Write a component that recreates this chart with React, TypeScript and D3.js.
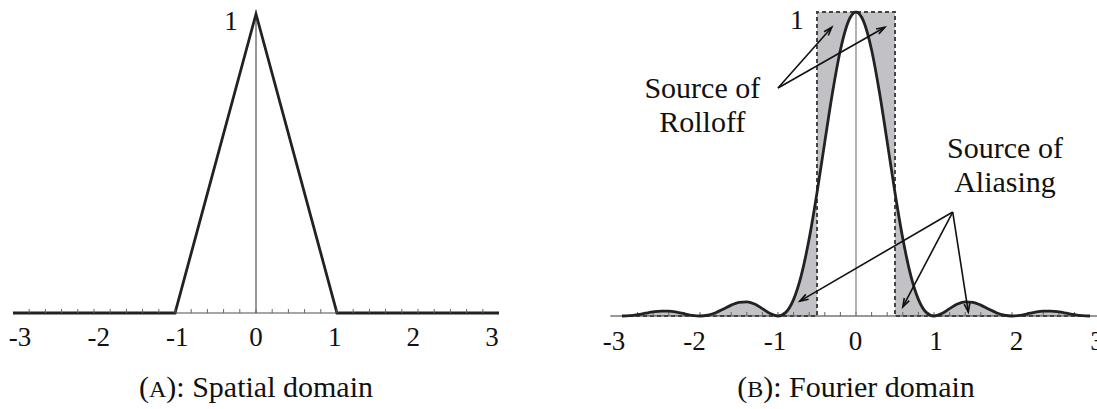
import React from "react";
import * as d3 from "d3";

// ---- data ----
const tickValues = [-3, -2, -1, 0, 1, 2, 3];
const tickLabels = ["-3", "-2", "-1", "0", "1", "2", "3"];
const minorTicks = [-2.8, -2.6, -2.4, -2.2, -2, -1.8, -1.6, -1.4, -1.2, -1, -0.8, -0.6, -0.4, -0.2, 0, 0.2, 0.4, 0.6, 0.8, 1, 1.2, 1.4, 1.6, 1.8, 2, 2.2, 2.4, 2.6, 2.8];

// spatial domain: triangle (tent) filter
const triX = [-3, -1, 0, 1, 3];
const triY = [0, 0, 1, 0, 0];

// Fourier domain: sampled curve (x from -3 to 3 in 0.1 steps)
const fourierY = [
  0, 0.00115, 0.00447, 0.0091, 0.01356, 0.01621, 0.01591, 0.01254, 0.00723, 0.00219,
  0, 0.00268, 0.0108, 0.02295, 0.0358, 0.04503, 0.04676, 0.03924, 0.02431, 0.008,
  0, 0.01195, 0.0547, 0.13534, 0.25457, 0.40528, 0.57279, 0.73684, 0.87514, 0.96753,
  1,
  0.96753, 0.87514, 0.73684, 0.57279, 0.40528, 0.25457, 0.13534, 0.0547, 0.01195, 0,
  0.008, 0.02431, 0.03924, 0.04676, 0.04503, 0.0358, 0.02295, 0.0108, 0.00268, 0,
  0.00219, 0.00723, 0.01254, 0.01591, 0.01621, 0.01356, 0.0091, 0.00447, 0.00115, 0,
];
const fourierX = fourierY.map((_, i) => Math.round((i - 30)) / 10);
const boxX = [-0.5, 0.5];
const boxHeight = 1;

// annotations (data coordinates of the Fourier panel)
const rolloffLines = ["Source of", "Rolloff"];
const rolloffTextPos = { x: -1.97, y: 0.717 };
const rolloffStart = { x: -1.0, y: 0.75 };
const rolloffEnds = [
  { x: -0.31, y: 0.95 },
  { x: 0.37, y: 0.95 },
];
const aliasLines = ["Source of", "Aliasing"];
const aliasTextPos = { x: 1.91, y: 0.52 };
const aliasStart = { x: 1.24, y: 0.342 };
const aliasEnds = [
  { x: -0.72, y: 0.049 },
  { x: 0.6, y: 0.03 },
  { x: 1.44, y: 0.013 },
];

const FONT = "Liberation Serif";
const GRAY = "#c2c2c6";

function arrowHead(x1: number, y1: number, x2: number, y2: number) {
  const a = Math.atan2(y2 - y1, x2 - x1);
  const L = 9;
  const w = 0.32;
  const p1 = [x2 - L * Math.cos(a - w), y2 - L * Math.sin(a - w)];
  const p2 = [x2 - L * Math.cos(a + w), y2 - L * Math.sin(a + w)];
  return `M${p1[0]},${p1[1]}L${x2},${y2}L${p2[0]},${p2[1]}`;
}

export default function App() {
  // ---- left panel scales ----
  const xL = d3.scaleLinear().domain([-3, 3]).range([13, 499]);
  const xLlab = d3.scaleLinear().domain([-3, 3]).range([20, 492]);
  const yL = d3.scaleLinear().domain([0, 1]).range([313, 14]);
  // ---- right panel scales ----
  const xR = d3.scaleLinear().domain([-3, 3]).range([622, 1090]);
  const xRlab = d3.scaleLinear().domain([-3, 3]).range([614, 1097]);
  const yR = d3.scaleLinear().domain([0, 1]).range([316, 12]);

  const triLine = d3
    .line<number>()
    .x((_, i) => xL(triX[i]))
    .y((d) => yL(d))(triY) as string;

  const fPts: [number, number][] = fourierX.map((x, i) => [x, fourierY[i]]);
  const fLine = d3
    .line<[number, number]>()
    .x((d) => xR(d[0]))
    .y((d) => yR(d[1]))
    .curve(d3.curveMonotoneX)(fPts) as string;
  const fArea = d3
    .area<[number, number]>()
    .x((d) => xR(d[0]))
    .y0(yR(0))
    .y1((d) => yR(d[1]))
    .curve(d3.curveMonotoneX)(fPts) as string;
  const bx0 = xR(boxX[0]);
  const bx1 = xR(boxX[1]);
  const by = yR(boxHeight);
  const by0 = yR(0);
  const rectPath = `M${bx0},${by0}L${bx0},${by}L${bx1},${by}L${bx1},${by0}Z`;

  const tickLabelsEls = (x: (v: number) => number, y: number) =>
    tickValues.map((v, i) => (
      <text key={i} x={x(v)} y={y} textAnchor="middle" fontSize={27} fontFamily={FONT} fill="#111">
        {tickLabels[i]}
      </text>
    ));

  const minorEls = (x: (v: number) => number, y0: number) =>
    minorTicks.map((v, i) => (
      <line key={i} x1={x(v)} x2={x(v)} y1={y0 - 4} y2={y0} stroke="#666" strokeWidth={1} />
    ));

  const rs = { x: xR(rolloffStart.x), y: yR(rolloffStart.y) };
  const as = { x: xR(aliasStart.x), y: yR(aliasStart.y) };

  return (
    <svg
      width={1097}
      height={409}
      style={{ position: "absolute", left: 0, top: 0, background: "#fff" }}
    >
      <rect x={0} y={0} width={1097} height={409} fill="#fff" />
      {/* ---------- left panel ---------- */}
      <line x1={xL(-3)} x2={xL(3)} y1={yL(0)} y2={yL(0)} stroke="#888" strokeWidth={1.5} />
      <line x1={xL(0)} x2={xL(0)} y1={yL(0)} y2={yL(1)} stroke="#333" strokeWidth={1} />
      <path d={triLine} fill="none" stroke="#222" strokeWidth={2.8} strokeLinejoin="miter" />
      {minorEls(xL, yL(0))}
      <text x={xL(0) - 25} y={yL(1) + 16} textAnchor="middle" fontSize={27} fontFamily={FONT} fill="#111">
        1
      </text>
      {tickLabelsEls(xLlab, 346)}
      <text x={256} y={397} textAnchor="middle" fontSize={30} fontFamily={FONT} fill="#111">
        (<tspan fontSize={24}>A</tspan>): Spatial domain
      </text>

      {/* ---------- right panel ---------- */}
      <path d={rectPath + fArea} fill={GRAY} fillRule="evenodd" stroke="none" />
      <line x1={xR(-3.15)} x2={xR(3.2)} y1={yR(0)} y2={yR(0)} stroke="#333" strokeWidth={1.2} />
      <path
        d={`M${xR(-3)},${by0}L${bx0},${by0}L${bx0},${by}L${bx1},${by}L${bx1},${by0}L${xR(3)},${by0}`}
        fill="none"
        stroke="#444"
        strokeWidth={2}
        strokeDasharray="4,3"
      />
      {minorEls(xR, yR(0))}
      <line x1={xR(0)} x2={xR(0)} y1={yR(0)} y2={yR(1)} stroke="#888" strokeWidth={1.3} />
      <path d={fLine} fill="none" stroke="#222" strokeWidth={2.8} />
      <text x={xR(0) - 59} y={yR(1) + 17} textAnchor="middle" fontSize={27} fontFamily={FONT} fill="#111">
        1
      </text>
      {tickLabelsEls(xRlab, 350)}
      <text x={856} y={397} textAnchor="middle" fontSize={30} fontFamily={FONT} fill="#111">
        (<tspan fontSize={24}>B</tspan>): Fourier domain
      </text>

      {/* annotations */}
      {rolloffLines.map((t, i) => (
        <text
          key={i}
          x={xR(rolloffTextPos.x)}
          y={yR(rolloffTextPos.y) + i * 34}
          textAnchor="middle"
          fontSize={30}
          fontFamily={FONT}
          fill="#111"
        >
          {t}
        </text>
      ))}
      {rolloffEnds.map((e, i) => {
        const ex = xR(e.x);
        const ey = yR(e.y);
        return (
          <g key={i} stroke="#111" strokeWidth={1.6} fill="none">
            <line x1={rs.x} y1={rs.y} x2={ex} y2={ey} />
            <path d={arrowHead(rs.x, rs.y, ex, ey)} />
          </g>
        );
      })}
      {aliasLines.map((t, i) => (
        <text
          key={i}
          x={xR(aliasTextPos.x)}
          y={yR(aliasTextPos.y) + i * 34}
          textAnchor="middle"
          fontSize={30}
          fontFamily={FONT}
          fill="#111"
        >
          {t}
        </text>
      ))}
      {aliasEnds.map((e, i) => {
        const ex = xR(e.x);
        const ey = yR(e.y);
        return (
          <g key={i} stroke="#111" strokeWidth={1.6} fill="none">
            <line x1={as.x} y1={as.y} x2={ex} y2={ey} />
            <path d={arrowHead(as.x, as.y, ex, ey)} />
          </g>
        );
      })}
    </svg>
  );
}
